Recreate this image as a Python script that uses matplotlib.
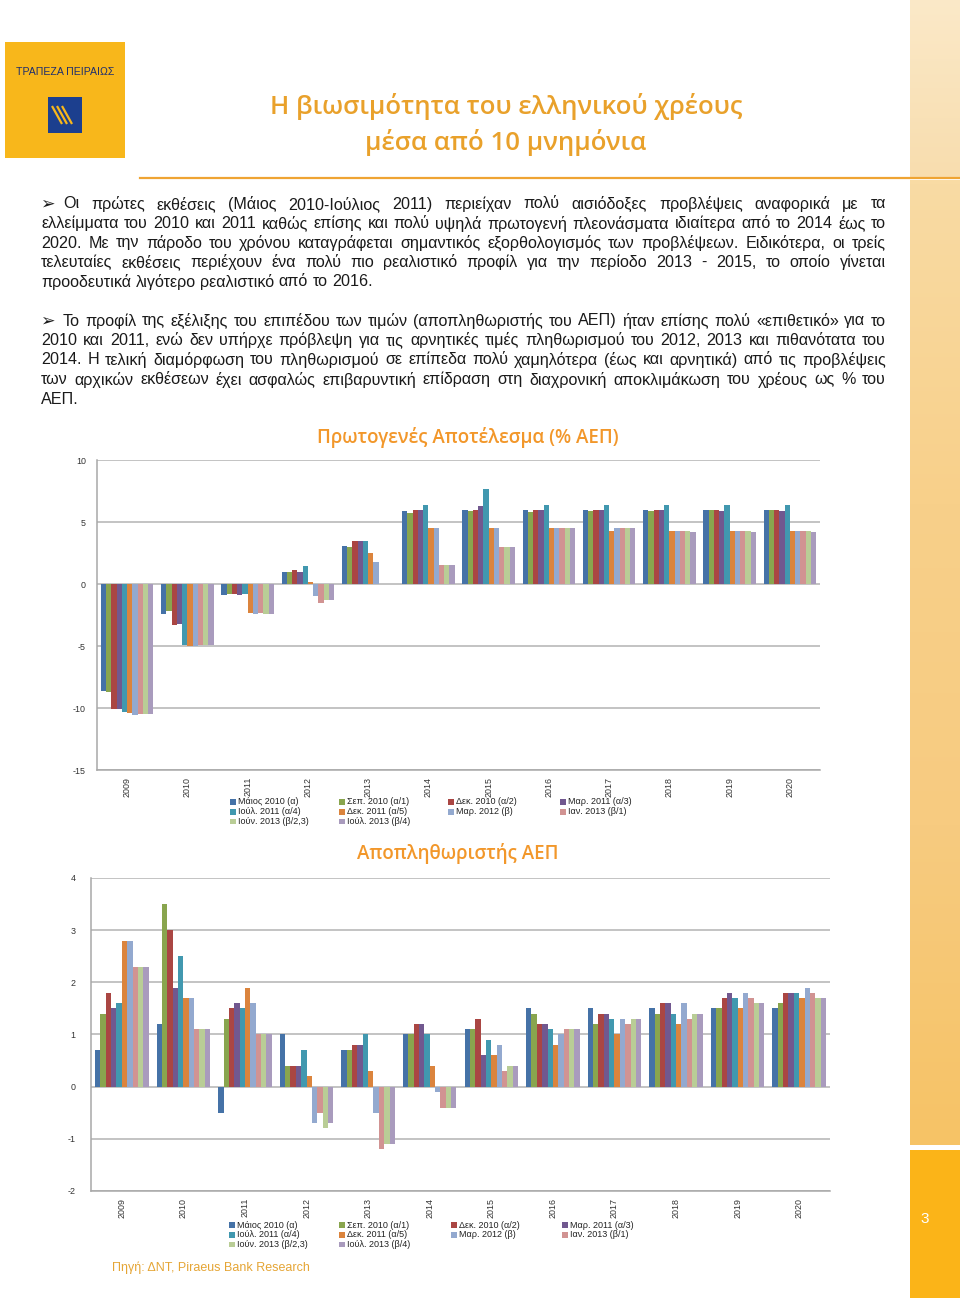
import numpy as np
import matplotlib
matplotlib.use('Agg')
import matplotlib.pyplot as plt
from matplotlib.patches import Rectangle
from matplotlib.colors import LinearSegmentedColormap

W, H = 960, 1298
BODY = ['Liberation Sans', 'DejaVu Sans']
HEAD = ['Open Sans', 'DejaVu Sans']

# ─── δεδομένα ─────────────────────────────────────────────────────────────
years = [str(y) for y in range(2009, 2021)]

series_labels = ['Μάιος 2010 (α)', 'Σεπ. 2010 (α/1)', 'Δεκ. 2010 (α/2)', 'Μαρ. 2011 (α/3)',
                 'Ιούλ. 2011 (α/4)', 'Δεκ. 2011 (α/5)', 'Μαρ. 2012 (β)', 'Ιαν. 2013 (β/1)',
                 'Ιούν. 2013 (β/2,3)', 'Ιούλ. 2013 (β/4)']
series_colors = ['#4572A7', '#89A54E', '#AA4643', '#71588F', '#4198AF',
                 '#DB843D', '#93A9CF', '#D19392', '#B9CD96', '#A99BBD']

# Πρωτογενές αποτέλεσμα (% ΑΕΠ), 2009-2020
pb_a   = [-8.6, -2.4, -0.9, 1.0, 3.1, 5.9, 6.0, 6.0, 6.0, 6.0, 6.0, 6.0]
pb_a1  = [-8.7, -2.2, -0.8, 1.0, 3.0, 5.7, 5.9, 5.8, 5.9, 5.85, 6.0, 6.0]
pb_a2  = [-10.1, -3.3, -0.8, 1.1, 3.5, 6.0, 6.0, 6.0, 6.0, 6.0, 6.0, 6.0]
pb_a3  = [-10.1, -3.2, -0.9, 1.0, 3.5, 6.0, 6.3, 6.0, 6.0, 6.0, 5.85, 5.85]
pb_a4  = [-10.3, -4.95, -0.8, 1.45, 3.5, 6.4, 7.7, 6.4, 6.4, 6.4, 6.4, 6.4]
pb_a5  = [-10.4, -5.0, -2.3, 0.2, 2.5, 4.5, 4.5, 4.5, 4.3, 4.3, 4.3, 4.3]
pb_b   = [-10.6, -5.0, -2.4, -1.0, 1.8, 4.5, 4.5, 4.5, 4.5, 4.3, 4.3, 4.3]
pb_b1  = [-10.5, -4.9, -2.3, -1.55, 0.0, 1.5, 3.0, 4.5, 4.5, 4.3, 4.3, 4.3]
pb_b23 = [-10.5, -4.95, -2.4, -1.3, 0.0, 1.5, 3.0, 4.5, 4.5, 4.3, 4.3, 4.3]
pb_b4  = [-10.5, -4.95, -2.4, -1.3, 0.0, 1.5, 3.0, 4.5, 4.5, 4.2, 4.2, 4.2]

# Αποπληθωριστής ΑΕΠ (%), 2009-2020
df_a   = [0.7, 1.2, -0.5, 1.0, 0.7, 1.0, 1.1, 1.5, 1.5, 1.5, 1.5, 1.5]
df_a1  = [1.4, 3.5, 1.3, 0.4, 0.7, 1.0, 1.1, 1.4, 1.2, 1.4, 1.5, 1.6]
df_a2  = [1.8, 3.0, 1.5, 0.4, 0.8, 1.2, 1.3, 1.2, 1.4, 1.6, 1.7, 1.8]
df_a3  = [1.5, 1.9, 1.6, 0.4, 0.8, 1.2, 0.6, 1.2, 1.4, 1.6, 1.8, 1.8]
df_a4  = [1.6, 2.5, 1.5, 0.7, 1.0, 1.0, 0.9, 1.1, 1.3, 1.4, 1.7, 1.8]
df_a5  = [2.8, 1.7, 1.9, 0.2, 0.3, 0.4, 0.6, 0.8, 1.0, 1.2, 1.5, 1.7]
df_b   = [2.8, 1.7, 1.6, -0.7, -0.5, -0.1, 0.8, 1.0, 1.3, 1.6, 1.8, 1.9]
df_b1  = [2.3, 1.1, 1.0, -0.5, -1.2, -0.4, 0.3, 1.1, 1.2, 1.3, 1.7, 1.8]
df_b23 = [2.3, 1.1, 1.0, -0.8, -1.1, -0.4, 0.4, 1.1, 1.3, 1.4, 1.6, 1.7]
df_b4  = [2.3, 1.1, 1.0, -0.7, -1.1, -0.4, 0.4, 1.1, 1.3, 1.4, 1.6, 1.7]

primary  = [pb_a, pb_a1, pb_a2, pb_a3, pb_a4, pb_a5, pb_b, pb_b1, pb_b23, pb_b4]
deflator = [df_a, df_a1, df_a2, df_a3, df_a4, df_a5, df_b, df_b1, df_b23, df_b4]

para1 = ["Οι πρώτες εκθέσεις (Μάιος 2010-Ιούλιος 2011) περιείχαν πολύ αισιόδοξες προβλέψεις αναφορικά με τα",
         "ελλείμματα του 2010 και 2011 καθώς επίσης και πολύ υψηλά πρωτογενή πλεονάσματα ιδιαίτερα από το 2014 έως το",
         "2020. Με την πάροδο του χρόνου καταγράφεται σημαντικός εξορθολογισμός των προβλέψεων. Ειδικότερα, οι τρείς",
         "τελευταίες εκθέσεις περιέχουν ένα πολύ πιο ρεαλιστικό προφίλ για την περίοδο  2013 - 2015, το οποίο γίνεται",
         "προοδευτικά λιγότερο ρεαλιστικό από το 2016."]
para2 = ["Το προφίλ της εξέλιξης του επιπέδου των τιμών (αποπληθωριστής του ΑΕΠ) ήταν επίσης πολύ «επιθετικό» για το",
         "2010 και 2011, ενώ δεν υπήρχε πρόβλεψη για τις αρνητικές τιμές πληθωρισμού του 2012, 2013 και πιθανότατα του",
         "2014. Η τελική διαμόρφωση του πληθωρισμού σε επίπεδα πολύ χαμηλότερα (έως και αρνητικά) από τις προβλέψεις",
         "των αρχικών εκθέσεων έχει ασφαλώς επιβαρυντική επίδραση στη διαχρονική αποκλιμάκωση του χρέους ως % του",
         "ΑΕΠ."]

# ─── σελίδα (συντεταγμένες σε pixel) ─────────────────────────────────────
fig = plt.figure(figsize=(W / 100, H / 100), dpi=100)
renderer = fig.canvas.get_renderer()
page = fig.add_axes([0, 0, 1, 1], zorder=0)

# δεξιά λωρίδα
strip_top = LinearSegmentedColormap.from_list('st', ['#FBE9C8', '#F8DDAE'])
strip_mid = LinearSegmentedColormap.from_list('sm', ['#F9DBA4', '#F8D08A', '#F7CB80', '#F6C366'])
grad = np.linspace(0, 1, 256).reshape(-1, 1)
page.imshow(grad, cmap=strip_top, extent=(910, 960, 177, 0), aspect='auto')
page.imshow(grad, cmap=strip_mid, extent=(910, 960, 1145, 180), aspect='auto')
page.add_patch(Rectangle((910, 1150), 50, 148, color='#FBB418', lw=0))
page.text(925, 1219, '3', color='white', fontsize=11, family=BODY, ha='center', va='center')
page.plot([140, 960], [178, 178], color='#EFA433', lw=1.6)

# λογότυπο
page.add_patch(Rectangle((5, 42), 120, 116, color='#F8B71B', lw=0))
page.text(65, 72, 'ΤΡΑΠΕΖΑ ΠΕΙΡΑΙΩΣ', color='#1E2E6E', fontsize=7.6, family=BODY,
          ha='center', va='center')
page.add_patch(Rectangle((48, 97), 34, 36, color='#1C3F8E', lw=0))
for k in range(3):
    page.plot([52 + 5 * k, 62 + 5 * k], [106, 124], color='#F8B71B', lw=1.6,
              solid_capstyle='butt')

# τίτλος
page.text(506, 106, 'Η βιωσιμότητα του ελληνικού χρέους', color='#E9A12B', fontsize=18.5,
          family=HEAD, weight='semibold', ha='center', va='center')
page.text(506, 143, 'μέσα από 10 μνημόνια', color='#E9A12B', fontsize=18.5,
          family=HEAD, weight='semibold', ha='center', va='center')

# κείμενο με πλήρη στοίχιση
FS = 11.6
def justify(line, x0, x1, y, stretch=True):
    words = line.split()
    widths = []
    for w in words:
        t = page.text(0, 0, w, fontsize=FS, family=BODY)
        widths.append(t.get_window_extent(renderer).width)
        t.remove()
    space = page.text(0, 0, 'a a', fontsize=FS, family=BODY)
    sp = space.get_window_extent(renderer).width
    space.remove()
    a = page.text(0, 0, 'aa', fontsize=FS, family=BODY)
    sp -= a.get_window_extent(renderer).width
    a.remove()
    gap = (x1 - x0 - sum(widths)) / (len(words) - 1) if stretch and len(words) > 1 else sp
    x = x0
    for w, wd in zip(words, widths):
        page.text(x, y, w, fontsize=FS, family=BODY, color='#1A1A1A', va='center')
        x += wd + gap

def paragraph(lines, y0):
    page.text(40, y0, '➢', fontsize=12.5, family=BODY, color='#1A1A1A', va='center')
    for i, line in enumerate(lines):
        x0 = 63 if i == 0 else 41
        justify(line, x0, 886, y0 + i * 19.5, stretch=i < len(lines) - 1)

paragraph(para1, 204)
paragraph(para2, 321)

page.text(112, 1268, 'Πηγή: ΔΝΤ, Piraeus Bank Research', color='#E5A535', fontsize=9,
          family=BODY, va='center')

page.set_xlim(0, W)
page.set_ylim(H, 0)
page.axis('off')

# ─── γραφήματα ────────────────────────────────────────────────────────────
def bar_chart(left, top, right, bottom, data, ylim, yticks, ypad):
    ax = fig.add_axes([left / W, 1 - bottom / H, (right - left) / W, (bottom - top) / H], zorder=2)
    ax.patch.set_alpha(0)
    gw = 0.87
    bw = gw / len(data)
    centers = np.arange(len(years)) + 0.5
    for i, (vals, col) in enumerate(zip(data, series_colors)):
        ax.bar(centers - gw / 2 + (i + 0.5) * bw, vals, width=bw, color=col, lw=0, zorder=3)
    ax.set_xlim(0, len(years))
    ax.set_ylim(*ylim)
    ax.set_yticks(yticks)
    ax.set_yticklabels([str(v) for v in yticks], fontsize=6.4, family=BODY, color='#333333')
    ax.set_xticks(centers)
    ax.set_xticklabels(years, rotation=90, fontsize=6.4, family=BODY, color='#333333')
    ax.tick_params(axis='y', length=0, pad=ypad)
    ax.tick_params(axis='x', length=0, pad=5)
    ax.grid(axis='y', color='#B3B3B3', lw=1.1, zorder=0)
    for s in ['top', 'right']:
        ax.spines[s].set_visible(False)
    for s in ['left', 'bottom']:
        ax.spines[s].set_color('#A8A8A8')
        ax.spines[s].set_linewidth(1.1)
    return ax

def legend(y0, xs):
    for k, (lab, col) in enumerate(zip(series_labels, series_colors)):
        r, c = divmod(k, 4)
        x, y = xs[c], y0 + r * 9.6
        page.add_patch(Rectangle((x, y - 2.6), 5.5, 5.5, color=col, lw=0))
        page.text(x + 8, y, lab, fontsize=6.5, family=BODY, color='#222222', va='center')

page.text(468, 437, 'Πρωτογενές Αποτέλεσμα (% ΑΕΠ)', color='#F2972A', fontsize=13.5,
          family=HEAD, weight='semibold', ha='center', va='center')
bar_chart(97, 460, 820, 770, primary, (-15, 10), [-15, -10, -5, 0, 5, 10], 8)
legend(802, [230, 339, 448, 560])

page.text(458, 853, 'Αποπληθωριστής ΑΕΠ', color='#F2972A', fontsize=13.5,
          family=HEAD, weight='semibold', ha='center', va='center')
bar_chart(91, 878, 830, 1191, deflator, (-2, 4), [-2, -1, 0, 1, 2, 3, 4], 11)
legend(1225, [229, 339, 451, 562])

page.set_xlim(0, W)
page.set_ylim(H, 0)

fig.savefig('out.png', dpi=100, facecolor='white')
